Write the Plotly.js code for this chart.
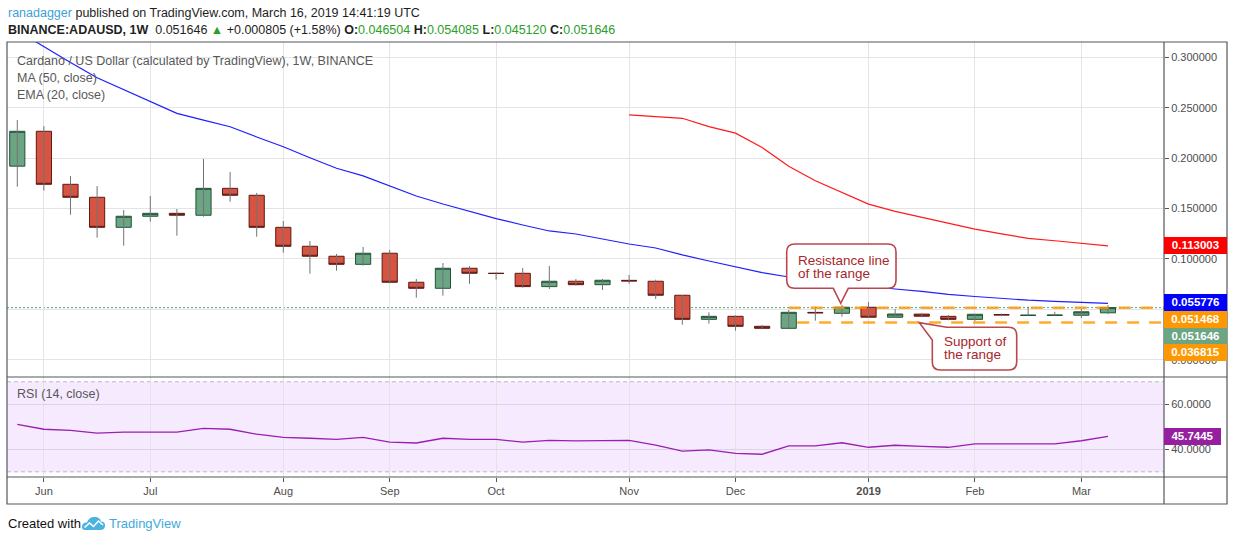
<!DOCTYPE html>
<html>
<head>
<meta charset="utf-8">
<script src="https://cdn.plot.ly/plotly-3.0.1.min.js"></script>
<style>
html,body{margin:0;padding:0;background:#ffffff;}
#chart{width:1234px;height:541px;}
</style>
</head>
<body>
<div id="chart"></div>
<script>
// ---------------- DATA ----------------
const weeks = ['2018-05-28','2018-06-04','2018-06-11','2018-06-18','2018-06-25','2018-07-02','2018-07-09','2018-07-16','2018-07-23','2018-07-30',
  '2018-08-06','2018-08-13','2018-08-20','2018-08-27','2018-09-03','2018-09-10','2018-09-17','2018-09-24','2018-10-01','2018-10-08',
  '2018-10-15','2018-10-22','2018-10-29','2018-11-05','2018-11-12','2018-11-19','2018-11-26','2018-12-03','2018-12-10','2018-12-17',
  '2018-12-24','2018-12-31','2019-01-07','2019-01-14','2019-01-21','2019-01-28','2019-02-04','2019-02-11','2019-02-18','2019-02-25',
  '2019-03-04','2019-03-11'];
const openP  = [0.1920,0.2266,0.1740,0.1611,0.1313,0.1423,0.1452,0.1433,0.1700,0.1631,
  0.1313,0.1125,0.1026,0.0946,0.1056,0.0768,0.0708,0.0907,0.0858,0.0857,
  0.0725,0.0778,0.0744,0.0787,0.0778,0.0639,0.0400,0.0430,0.0331,0.0311,
  0.0469,0.0460,0.0520,0.0421,0.0452,0.0430,0.0400,0.0448,0.0439,0.0439,
  0.0441,0.046504];
const highP  = [0.2378,0.2318,0.1822,0.1723,0.1485,0.1624,0.1495,0.1991,0.1862,0.1654,
  0.1376,0.1178,0.1049,0.1118,0.1088,0.0801,0.0959,0.0930,0.0867,0.0910,
  0.0930,0.0801,0.0801,0.0840,0.0794,0.0642,0.0470,0.0440,0.0344,0.0493,
  0.0526,0.0545,0.0572,0.0502,0.0462,0.0444,0.0456,0.0458,0.0526,0.0476,
  0.0502,0.054085];
const lowP   = [0.1716,0.1677,0.1439,0.1210,0.1131,0.1369,0.1230,0.1419,0.1567,0.1220,
  0.1062,0.0853,0.0883,0.0933,0.0758,0.0615,0.0635,0.0754,0.0794,0.0714,
  0.0701,0.0735,0.0691,0.0754,0.0602,0.0347,0.0357,0.0288,0.0302,0.0302,
  0.0387,0.0427,0.0415,0.0418,0.0421,0.0391,0.0384,0.0432,0.0437,0.0436,
  0.0413,0.045120];
const closeP = [0.2266,0.1740,0.1611,0.1313,0.1423,0.1452,0.1433,0.1700,0.1631,0.1313,
  0.1125,0.1026,0.0946,0.1056,0.0768,0.0708,0.0907,0.0857,0.0855,0.0725,
  0.0778,0.0744,0.0788,0.0781,0.0639,0.0400,0.0430,0.0331,0.0311,0.0470,
  0.0465,0.0520,0.0421,0.0453,0.0431,0.0400,0.0450,0.0444,0.0441,0.0442,
  0.0475,0.051646];
const ema20  = [0.3264,0.3105,0.2948,0.2797,0.2682,0.2566,0.2444,0.2377,0.2311,0.2210,
  0.2112,0.2003,0.1899,0.1824,0.1726,0.1624,0.1545,0.1470,0.1400,0.1336,
  0.1277,0.1247,0.1197,0.1148,0.1108,0.1039,0.0979,0.0919,0.0863,0.0820,
  0.0790,0.0756,0.0724,0.0701,0.0677,0.0647,0.0627,0.0605,0.0590,0.0578,
  0.0567,0.055776];
const ma50   = [null,null,null,null,null,null,null,null,null,null,
  null,null,null,null,null,null,null,null,null,null,
  null,null,null,0.2428,0.2412,0.2395,0.2312,0.2248,0.2105,0.1920,
  0.1775,0.1655,0.1543,0.1472,0.1413,0.1354,0.1296,0.1249,0.1203,0.1180,
  0.1156,0.113003];
const rsi14  = [51.1,48.9,48.4,47.2,47.6,47.6,47.6,49.3,48.9,46.7,
  45.3,44.9,44.4,45.3,43.2,42.8,44.9,44.4,44.4,43.2,
  44.0,43.7,44.0,44.0,41.9,39.2,39.7,38.2,37.8,41.5,
  41.5,42.9,40.9,41.8,41.3,40.9,42.4,42.4,42.4,42.4,
  43.8,45.7445];
const monthTicks  = ['2018-06-04','2018-07-02','2018-08-06','2018-09-03','2018-10-01','2018-11-05','2018-12-03','2019-01-07','2019-02-04','2019-03-04'];
const monthLabels = ['Jun','Jul','Aug','Sep','Oct','Nov','Dec','<b>2019</b>','Feb','Mar'];
const priceTicks  = [0, 0.05, 0.10, 0.15, 0.20, 0.25, 0.30];
const rsiTicks    = [40, 60];
const resistanceLevel = 0.051468;
const supportLevel    = 0.036815;
const resistanceStart = '2018-12-17';
const supportStart    = '2018-12-19 05:00';

// ---------------- GEOMETRY HELPERS ----------------
const W = 1234, H = 541, ML = 7, MR = 70, MT = 42, MB = 64;
const plotW = W - ML - MR, plotH = H - MT - MB;
const xRange = ['2018-05-25 07:00', '2019-03-25 18:00'];
const rsiFrac = 100 / plotH;
function PX(x){ return (x - ML) / plotW; }
function PY(y){ return (H - MB - y) / plotH; }
function pathFromPts(cmds){
  return cmds.map(c => {
    if (c[0] === 'Z') return 'Z';
    if (c[0] === 'Q') return 'Q' + PX(c[1]) + ',' + PY(c[2]) + ' ' + PX(c[3]) + ',' + PY(c[4]);
    return c[0] + PX(c[1]) + ',' + PY(c[2]);
  }).join(' ');
}

// ---------------- TRACES ----------------
const wickX = [], wickY = [];
for (let i = 0; i < weeks.length; i++) {
  wickX.push(weeks[i], weeks[i], null);
  wickY.push(lowP[i], highP[i], null);
}
const bodyHigh = openP.map((o, i) => Math.max(o, closeP[i]));
const bodyLow  = openP.map((o, i) => Math.min(o, closeP[i]));

const traces = [
  {type:'scatter', mode:'lines', x:wickX, y:wickY, xaxis:'x', yaxis:'y',
   line:{color:'#737375', width:1}, hoverinfo:'skip', showlegend:false},
  {type:'candlestick', x:weeks, open:openP, high:bodyHigh, low:bodyLow, close:closeP,
   xaxis:'x', yaxis:'y', whiskerwidth:0,
   increasing:{line:{color:'#225437', width:1}, fillcolor:'#6ba583'},
   decreasing:{line:{color:'#5b1a13', width:1}, fillcolor:'#d75442'},
   hoverinfo:'skip', showlegend:false},
  {type:'scatter', mode:'lines', x:weeks, y:ema20, xaxis:'x', yaxis:'y',
   line:{color:'#1f1fff', width:1.2}, hoverinfo:'skip', showlegend:false},
  {type:'scatter', mode:'lines', x:weeks, y:ma50, xaxis:'x', yaxis:'y',
   line:{color:'#ff1a1a', width:1.2}, hoverinfo:'skip', showlegend:false, connectgaps:false},
  {type:'scatter', mode:'lines', x:weeks, y:rsi14, xaxis:'x', yaxis:'y2',
   line:{color:'#9a1fb0', width:1.3}, hoverinfo:'skip', showlegend:false}
];

// ---------------- SHAPES ----------------
const frameCol = '#55575e';
const calloutLine = '#b9474d';
const shapes = [
  {type:'rect', xref:'paper', yref:'y2', x0:0, x1:1, y0:30, y1:70, fillcolor:'rgba(153,21,255,0.09)', line:{width:0}, layer:'below'},
  {type:'line', xref:'paper', yref:'y2', x0:0, x1:1, y0:70, y1:70, line:{color:'#bdb5c6', width:1, dash:'4px,3px'}, layer:'between'},
  {type:'line', xref:'paper', yref:'y2', x0:0, x1:1, y0:30, y1:30, line:{color:'#bdb5c6', width:1, dash:'4px,3px'}, layer:'between'},
  {type:'line', xref:'paper', yref:'y', x0:0, x1:1, y0:closeP[closeP.length-1], y1:closeP[closeP.length-1],
   line:{color:'#5fa37d', width:1, dash:'2px,2px'}, layer:'between'},
  {type:'line', xref:'x', yref:'y', x0:resistanceStart, x1:xRange[1], y0:resistanceLevel, y1:resistanceLevel,
   line:{color:'rgba(255,152,0,0.82)', width:2.5, dash:'12px,10px'}, layer:'above'},
  {type:'line', xref:'x', yref:'y', x0:supportStart, x1:xRange[1], y0:supportLevel, y1:supportLevel,
   line:{color:'rgba(255,152,0,0.82)', width:2.5, dash:'12px,10px'}, layer:'above'},
  {type:'rect', xref:'paper', yref:'paper', x0:0, x1:PX(1227), y0:PY(504), y1:1, line:{color:frameCol, width:1.2}, fillcolor:'rgba(0,0,0,0)', layer:'above'},
  {type:'line', xref:'paper', yref:'paper', x0:1, x1:1, y0:PY(504), y1:1, line:{color:frameCol, width:1.2}, layer:'above'},
  {type:'line', xref:'paper', yref:'paper', x0:0, x1:PX(1227), y0:rsiFrac, y1:rsiFrac, line:{color:frameCol, width:1.2}, layer:'above'},
  {type:'line', xref:'paper', yref:'paper', x0:0, x1:PX(1227), y0:0, y1:0, line:{color:frameCol, width:1.2}, layer:'above'},
  {type:'path', xref:'paper', yref:'paper', layer:'above', fillcolor:'#ffffff', line:{color:calloutLine, width:1.6},
   path: pathFromPts([
     ['M',794.7,244],['L',888,244],['Q',896,244,896,252],['L',896,280.3],['Q',896,288.3,888,288.3],
     ['L',848.3,288.3],['L',840.7,303.3],['L',833.3,288.3],['L',794.7,288.3],['Q',786.7,288.3,786.7,280.3],
     ['L',786.7,252],['Q',786.7,244,794.7,244],['Z']])},
  {type:'path', xref:'paper', yref:'paper', layer:'above', fillcolor:'#ffffff', line:{color:calloutLine, width:1.6},
   path: pathFromPts([
     ['M',946.7,327.3],['L',1008.7,327.3],['Q',1016.7,327.3,1016.7,335.3],['L',1016.7,362],['Q',1016.7,370,1008.7,370],
     ['L',940.3,370],['Q',932.3,370,932.3,362],['L',932.3,340],['L',919.3,322.7],['Z']])},
  {type:'path', xref:'paper', yref:'paper', layer:'above', fillcolor:'#4bb3e2', line:{width:0},
   path: pathFromPts([
     ['M',85,530],['Q',81.5,530,82,526],['Q',82.8,522,87,522.5],['Q',89,516.5,95,517],['Q',100,517.2,101,521.5],
     ['Q',105.5,521.5,105,526],['Q',104.5,530,100.5,530],['Z']])},
  {type:'path', xref:'paper', yref:'paper', layer:'above', line:{color:'#ffffff', width:1.6},
   path: pathFromPts([['M',84.5,527.5],['L',89.5,523],['L',93.5,526.5],['L',98.5,521],['L',103,525]])}
];

// ---------------- ANNOTATIONS ----------------
const F = 'Liberation Sans, Arial, sans-serif';
const annotations = [];
function txt(x, y, text, size, color, extra){
  annotations.push(Object.assign({xref:'paper', yref:'paper', x:PX(x), y:PY(y), xanchor:'left', yanchor:'middle',
    text:text, showarrow:false, font:{family:F, size:size, color:color}}, extra || {}));
}
const up = '#2aa02a';
txt(6, 13, '<span style="color:#3d9fd8">ranadagger</span> published on TradingView.com, March 16, 2019 14:41:19 UTC', 12.5, '#1e1e1e');
const lastI = closeP.length - 1;
txt(6, 30, '<b>BINANCE:ADAUSD, 1W</b>  ' + closeP[lastI].toFixed(6) + ' <span style="color:' + up + '">▲</span> +0.000805 (+1.58%) ' +
  '<b>O:</b><span style="color:' + up + '">' + openP[lastI].toFixed(6) + '</span> ' +
  '<b>H:</b><span style="color:' + up + '">' + highP[lastI].toFixed(6) + '</span> ' +
  '<b>L:</b><span style="color:' + up + '">' + lowP[lastI].toFixed(6) + '</span> ' +
  '<b>C:</b><span style="color:' + up + '">' + closeP[lastI].toFixed(6) + '</span>', 12.5, '#1e1e1e');
txt(15, 61, 'Cardano / US Dollar (calculated by TradingView), 1W, BINANCE', 12.5, '#585858');
txt(15, 78, 'MA (50, close)', 12.5, '#585858');
txt(15, 95, 'EMA (20, close)', 12.5, '#585858');
txt(15, 394, 'RSI (14, close)', 12.5, '#585858');
txt(6, 523, 'Created with', 13, '#111111');
txt(107, 523, 'TradingView', 13, '#3fa9dc');
const cText = '#a8262c';
txt(796, 260.5, 'Resistance line', 13.5, cText);
txt(796, 273, 'of the range', 13.5, cText);
txt(942, 341.5, 'Support of', 13.5, cText);
txt(942, 354, 'the range', 13.5, cText);

const tags = [
  {v: ma50[lastI], bg:'#ff0000', shift:0},
  {v: ema20[lastI], bg:'#0000ff', shift:1},
  {v: resistanceLevel, bg:'#ff9800', shift:-12},
  {v: closeP[lastI], bg:'#6ba583', shift:-28.7},
  {v: supportLevel, bg:'#ff9800', shift:-30.4}
];
tags.forEach(t => annotations.push({xref:'paper', yref:'y', x:1, y:t.v, xanchor:'left', yanchor:'middle', yshift:t.shift,
  text:'<b>' + t.v.toFixed(6) + '</b>', showarrow:false, bgcolor:t.bg, borderwidth:0, borderpad:1.5,
  width:60, height:13.5, align:'center', font:{family:F, size:11.5, color:'#ffffff'}}));
annotations.push({xref:'paper', yref:'y2', x:1, y:rsi14[lastI], xanchor:'left', yanchor:'middle',
  text:'<b>' + rsi14[lastI].toFixed(4) + '</b>', showarrow:false, bgcolor:'#951f9f', borderwidth:0, borderpad:1.5,
  width:54, height:13.5, align:'center', font:{family:F, size:11.5, color:'#ffffff'}});

// ---------------- LAYOUT ----------------
const gridCol = '#e4e4e4';
const tickFont = {family:F, size:11, color:'#4d4d4d'};
const layout = {
  width:W, height:H,
  margin:{l:ML, r:MR, t:MT, b:MB, pad:0},
  paper_bgcolor:'#ffffff', plot_bgcolor:'#ffffff',
  font:{family:F},
  showlegend:false, hovermode:false,
  boxgap:0.43, boxgroupgap:0,
  xaxis:{type:'date', range:xRange, domain:[0,1], anchor:'y2', tickvals:monthTicks, ticktext:monthLabels,
    ticks:'outside', ticklen:4, tickcolor:frameCol, tickfont:tickFont, showgrid:true, gridcolor:gridCol,
    zeroline:false, showline:false, rangeslider:{visible:false}, fixedrange:true, automargin:false},
  yaxis:{domain:[rsiFrac,1], range:[-0.0172, 0.3152], side:'right', anchor:'x', tickvals:priceTicks, tickformat:'.6f',
    ticks:'outside', ticklen:4, tickcolor:frameCol, tickfont:tickFont, showgrid:true, gridcolor:gridCol,
    zeroline:false, showline:false, fixedrange:true, automargin:false},
  yaxis2:{domain:[0,rsiFrac], range:[27.7, 72.1], side:'right', anchor:'x', tickvals:rsiTicks, tickformat:'.4f',
    ticks:'outside', ticklen:4, tickcolor:frameCol, tickfont:tickFont, showgrid:true, gridcolor:'#ddd3e6',
    zeroline:false, showline:false, fixedrange:true, automargin:false},
  shapes:shapes,
  annotations:annotations
};

Plotly.newPlot('chart', traces, layout, {staticPlot:true, displayModeBar:false});
</script>
</body>
</html>
